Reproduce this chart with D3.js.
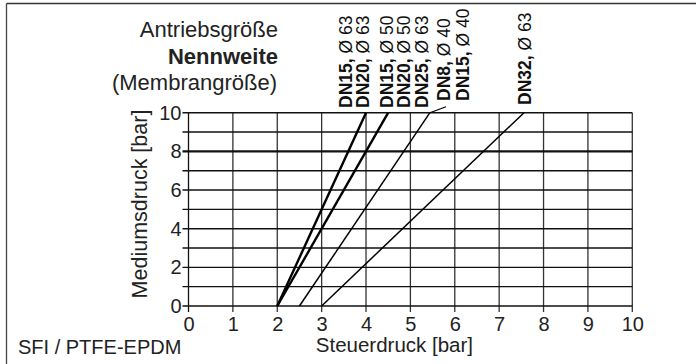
<!DOCTYPE html>
<html>
<head>
<meta charset="utf-8">
<script src="https://cdn.jsdelivr.net/npm/d3@7"></script>
<style>
  html, body { margin: 0; padding: 0; background: #fff; }
  svg { display: block; font-family: "Liberation Sans", Arial, Helvetica, sans-serif; }
</style>
</head>
<body>
<svg id="chart" width="696" height="364"></svg>
<script>
// Steuerdruck (control pressure) vs. Mediumsdruck (medium pressure)
const xTicks = [0, 1, 2, 3, 4, 5, 6, 7, 8, 9, 10];
const yTicks = [0, 2, 4, 6, 8, 10];
const yGrid = [0, 1, 2, 3, 4, 5, 6, 7, 8, 9, 10];

// each curve: control pressure at medium pressure 0 and 10 bar
const curveNames = ["A", "B", "C", "D"];
const curveStart = [2.0, 2.0, 2.5, 3.0];   // Steuerdruck at 0 bar
const curveEnd = [4.0, 4.5, 5.44, 7.56];    // Steuerdruck at 10 bar
const curveMedium = [0, 10];
const curveHeavy = [true, true, false, false];

// label columns above the chart: bold size, regular diaphragm, control pressure of column
const labelBold = ["DN15,", "DN20,", "DN15,", "DN20,", "DN25,", "DN8,", "DN15,", "DN32,"];
const labelRest = [" Ø 63", " Ø 63", " Ø 50", " Ø 50", " Ø 63", " Ø 40", " Ø 40", " Ø 63"];
const labelAt = [3.68, 4.06, 4.6, 5.0, 5.4, 5.9, 6.33, 7.72];

const titleLines = ["Antriebsgröße", "Nennweite", "(Membrangröße)"];

const svg = d3.select("#chart");
const x = d3.scaleLinear().domain([0, 10]).range([188.5, 632.3]);
const y = d3.scaleLinear().domain([0, 10]).range([306, 112.7]);

// outer frame
svg.append("line").attr("x1", 6.5).attr("x2", 696).attr("y1", 3.5).attr("y2", 3.5)
  .attr("stroke", "#333").attr("stroke-width", 1.6);
svg.append("line").attr("x1", 6.5).attr("x2", 6.5).attr("y1", 3.5).attr("y2", 364)
  .attr("stroke", "#444").attr("stroke-width", 1.3);

// vertical grid
svg.append("g").selectAll("line").data(xTicks).join("line")
  .attr("x1", d => x(d)).attr("x2", d => x(d))
  .attr("y1", y(10)).attr("y2", y(0) + 6)
  .attr("stroke", d => d === 0 ? "#111" : "#333").attr("stroke-width", 1.3);

// horizontal grid
svg.append("g").selectAll("line").data(yGrid).join("line")
  .attr("x1", x(0) - 6).attr("x2", x(10))
  .attr("y1", d => y(d)).attr("y2", d => y(d))
  .attr("stroke", "#111").attr("stroke-width", d => d === 8 ? 2.4 : 1.4);

// tick labels
const xAxis = d3.axisBottom(x).tickValues(xTicks).tickSize(0).tickPadding(11);
const gx = svg.append("g").attr("transform", `translate(0,${y(0)})`).call(xAxis);
gx.select(".domain").remove();
gx.selectAll("text").attr("font-size", 20).attr("fill", "#222").attr("font-family", null);

const yAxis = d3.axisLeft(y).tickValues(yTicks).tickSize(0).tickPadding(7);
const gy = svg.append("g").attr("transform", `translate(${x(0)},0)`).call(yAxis);
gy.select(".domain").remove();
gy.selectAll("text").attr("font-size", 20).attr("fill", "#222").attr("font-family", null);

// curves
const line = d3.line().x(d => x(d[0])).y(d => y(d[1]));
curveNames.forEach((n, i) => {
  const pts = [[curveStart[i], curveMedium[0]], [curveEnd[i], curveMedium[1]]];
  svg.append("path").attr("d", line(pts)).attr("fill", "none")
    .attr("stroke", "#000").attr("stroke-width", curveHeavy[i] ? 2.4 : 1.5);
});

// leader from curve C to its label
svg.append("line")
  .attr("x1", x(curveEnd[2])).attr("y1", y(10))
  .attr("x2", x(curveEnd[2]) + 16).attr("y2", y(10) - 6)
  .attr("stroke", "#000").attr("stroke-width", 1.2);

// rotated labels
const labelBase = [108, 108, 108, 108, 108, 101, 101, 105];
labelBold.forEach((b, i) => {
  const t = svg.append("text")
    .attr("transform", `translate(${x(labelAt[i])},${labelBase[i]}) rotate(-90)`)
    .attr("font-size", 17.5).attr("fill", "#111");
  t.append("tspan").attr("font-weight", "bold").text(b);
  t.append("tspan").text(labelRest[i]);
});

// title block
const tb = svg.append("g").attr("text-anchor", "end").attr("fill", "#222").attr("font-size", 22);
tb.append("text").attr("x", 278).attr("y", 37).text(titleLines[0]);
tb.append("text").attr("x", 278).attr("y", 63.5).attr("font-weight", "bold").text(titleLines[1]);
tb.append("text").attr("x", 277).attr("y", 90).text(titleLines[2]);

// axis titles
svg.append("text").attr("x", (x(0) + x(10)) / 2 - 16).attr("y", 352)
  .attr("text-anchor", "middle").attr("font-size", 20.5).attr("fill", "#222")
  .text("Steuerdruck [bar]");
svg.append("text").attr("transform", `translate(146.5,204) rotate(-90)`)
  .attr("text-anchor", "middle").attr("font-size", 21.5).attr("fill", "#222")
  .text("Mediumsdruck [bar]");

svg.append("text").attr("x", 18).attr("y", 354).attr("font-size", 20).attr("fill", "#222")
  .text("SFI / PTFE-EPDM");
</script>
</body>
</html>
